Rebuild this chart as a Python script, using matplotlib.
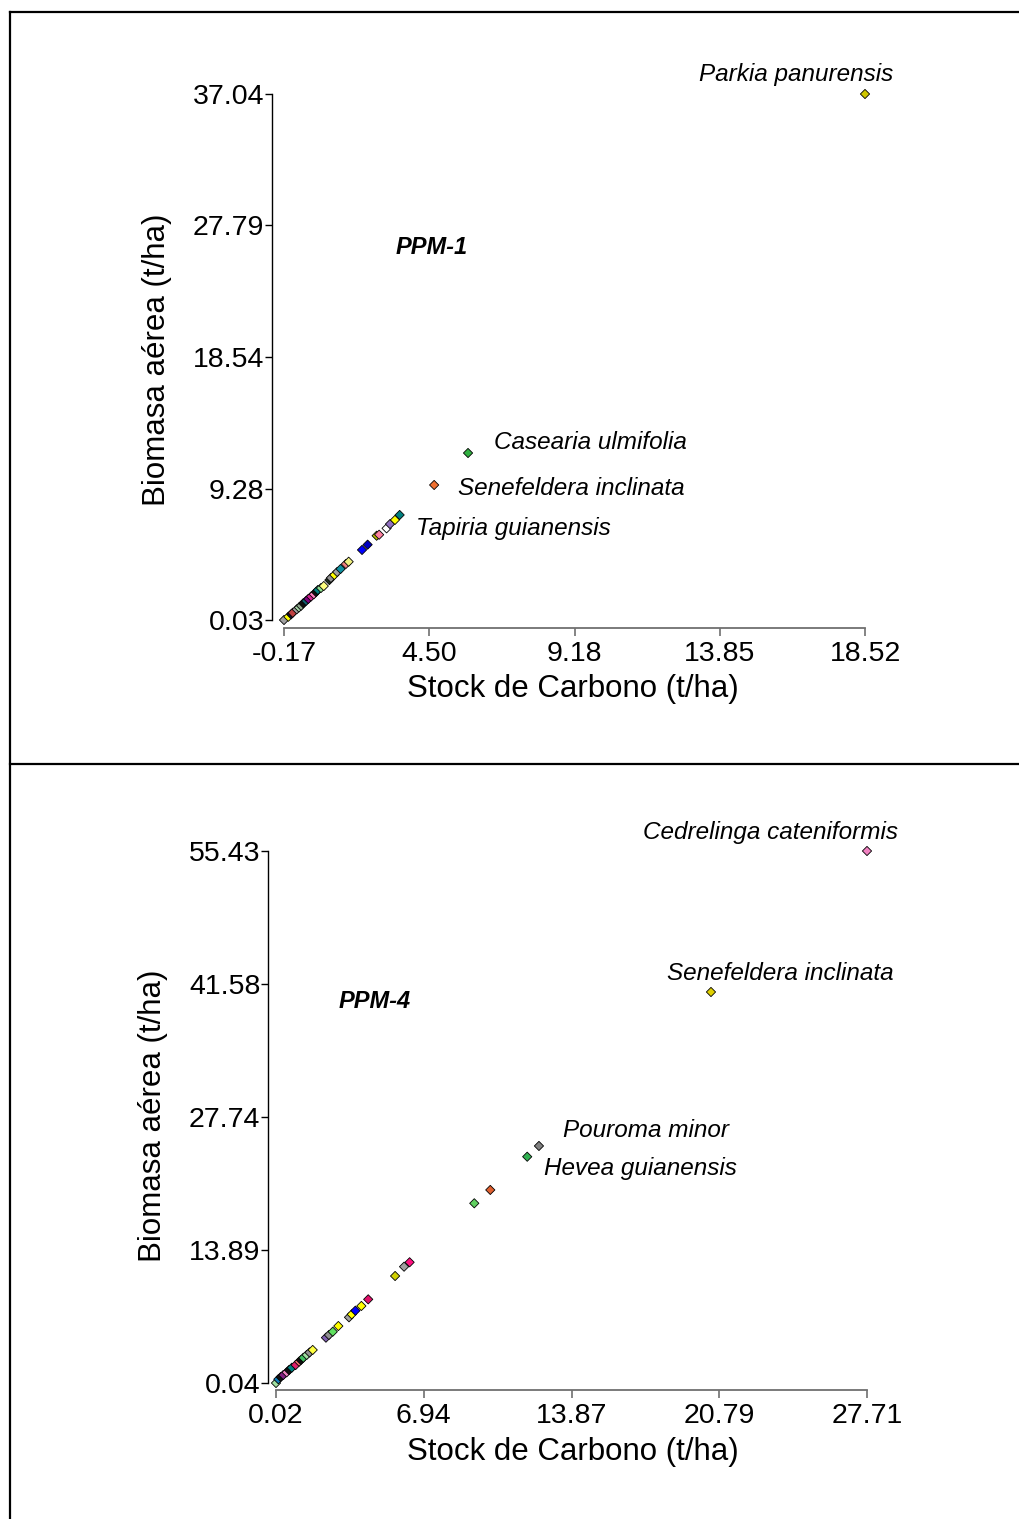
import matplotlib
matplotlib.use("Agg")
import matplotlib.pyplot as plt
from matplotlib.lines import Line2D

plt.rcParams['font.family'] = ['Liberation Sans', 'DejaVu Sans']

# PPM-1: stock de carbono vs biomasa aerea (t/ha)
carbono1 = [-0.17, -0.03, 0.06, 0.11, 0.24, 0.31, 0.38, 0.45, 0.54, 0.61, 0.70, 0.79,
            0.86, 0.92, 1.02, 1.11, 1.29, 1.34, 1.45, 1.54, 1.65, 1.82, 1.91, 2.34,
            2.52, 2.81, 2.89, 3.13, 3.24, 3.40, 3.55, 4.66, 5.75, 18.52]
biomasa1 = [0.03, 0.26, 0.43, 0.54, 0.78, 0.91, 1.03, 1.21, 1.37, 1.51, 1.68, 1.84,
            2.00, 2.14, 2.28, 2.42, 2.84, 2.99, 3.20, 3.41, 3.62, 3.97, 4.13, 4.96,
            5.33, 5.96, 6.03, 6.48, 6.78, 7.07, 7.42, 9.53, 11.78, 37.04]
colores1 = ['#a0a0a0', '#ffff00', '#101030', '#c04040', '#a0a0a0', '#a8d8a8', '#90a890',
            '#101010', '#106070', '#800080', '#d02090', '#ff80c0', '#101010', '#008080',
            '#90e090', '#ffff80', '#203020', '#909090', '#ffff00', '#a0a0a0', '#1090a0',
            '#f08080', '#f0f080', '#0000ff', '#0000c0', '#c0c000', '#ff80a0', '#ffffff',
            '#9070c0', '#ffff00', '#008080', '#f07030', '#30b040', '#d0c800']
especies1 = {'Parkia panurensis': 33, 'Casearia ulmifolia': 32,
             'Senefeldera inclinata': 31, 'Tapiria guianensis': 30}
xticks1 = [-0.17, 4.50, 9.18, 13.85, 18.52]
yticks1 = [0.03, 9.28, 18.54, 27.79, 37.04]

# PPM-4
carbono4 = [0.02, 0.13, 0.24, 0.36, 0.52, 0.63, 0.76, 0.94, 1.10, 1.19, 1.30, 1.46,
            1.59, 1.74, 2.36, 2.50, 2.68, 2.94, 3.44, 3.57, 3.74, 4.02, 4.34, 5.60,
            6.02, 6.28, 9.31, 10.06, 11.79, 12.34, 20.40, 27.71]
biomasa4 = [0.04, 0.43, 0.66, 0.87, 1.15, 1.39, 1.63, 1.91, 2.26, 2.43, 2.67, 2.96,
            3.22, 3.48, 4.76, 5.04, 5.38, 5.97, 6.88, 7.19, 7.57, 8.06, 8.75, 11.18,
            12.15, 12.61, 18.75, 20.14, 23.60, 24.72, 40.75, 55.43]
colores4 = ['#a0e0a0', '#1080c0', '#101010', '#802080', '#f080c0', '#101010', '#008080',
            '#e0206a', '#f07070', '#101010', '#40c060', '#a0e0a0', '#909090', '#ffff40',
            '#8060b0', '#909090', '#60e060', '#ffff00', '#a0a0a0', '#ffff00', '#0000ff',
            '#ffff00', '#e0106a', '#d0d000', '#a0a0a0', '#ff1080', '#60d060', '#e06030',
            '#30b050', '#808080', '#e0d000', '#f080c0']
especies4 = {'Cedrelinga cateniformis': 31, 'Senefeldera inclinata': 30,
             'Pouroma minor': 29, 'Hevea guianensis': 28}
xticks4 = [0.02, 6.94, 13.87, 20.79, 27.71]
yticks4 = [0.04, 13.89, 27.74, 41.58, 55.43]

W, H = 1020, 1519
fig = plt.figure(figsize=(W / 100, H / 100), dpi=100)


def panel(x, y, cols, xt, yt, names, box, offsets, tag, tagpos, lab):
    # box: pixel positions (yaxis_x, xaxis_y, xmin_px, xmax_px, ymin_px, ymax_px, right, top)
    ax_x, ax_y, x0, x1, y0, y1, right, top = box
    kx = (xt[-1] - xt[0]) / (x1 - x0)
    ky = (yt[-1] - yt[0]) / (y0 - y1)
    ax = fig.add_axes([ax_x / W, 1 - ax_y / H, (right - ax_x) / W, (ax_y - top) / H])
    ax.set_xlim(xt[0] - (x0 - ax_x) * kx, xt[-1] + (right - x1) * kx)
    ax.set_ylim(yt[0] - (ax_y - y0) * ky, yt[-1] + (y1 - top) * ky)
    ax.patch.set_visible(False)
    for s in ['top', 'right']:
        ax.spines[s].set_visible(False)
    ax.spines['left'].set_bounds(yt[0], yt[-1])
    ax.spines['bottom'].set_bounds(xt[0], xt[-1])
    ax.spines['left'].set_linewidth(1.0)
    ax.spines['bottom'].set_linewidth(1.3)
    ax.spines['bottom'].set_color('#707070')
    ax.set_xticks(xt)
    ax.set_xticklabels(['%.2f' % v for v in xt])
    ax.set_yticks(yt)
    ax.set_yticklabels(['%.2f' % v for v in yt])
    ax.tick_params(axis='y', length=5, width=1, pad=0.5, labelsize=20.5)
    ax.tick_params(axis='x', length=6, width=1.2, color='#707070', pad=3.5, labelsize=20.5)
    ax.scatter(x, y, c=cols, marker='D', s=22, edgecolors='black', linewidths=0.6,
               zorder=3, clip_on=False)
    for (name, i), (dx, dy, ha) in zip(names.items(), offsets):
        ax.annotate(name, xy=(x[i], y[i]), xytext=(dx, dy), textcoords='offset pixels',
                    ha=ha, va='center', fontsize=17.5, style='italic')
    fig.text(tagpos[0] / W, 1 - tagpos[1] / H, tag, ha='center', va='center',
             fontsize=17, style='italic', weight='bold')
    fig.text(lab[0] / W, 1 - lab[1] / H, 'Stock de Carbono (t/ha)', ha='center',
             va='center', fontsize=22.5)
    fig.text(lab[2] / W, 1 - lab[3] / H, 'Biomasa aérea (t/ha)', ha='center',
             va='center', fontsize=22.5, rotation=90)
    return ax


panel(carbono1, biomasa1, colores1, xticks1, yticks1, especies1,
      (272, 628, 284, 865, 620, 94, 895, 70),
      [(28, 20, 'right'), (26, 11, 'left'), (24, -4, 'left'), (16, -14, 'left')],
      'PPM-1', (432, 248), (573, 689, 157, 360))

panel(carbono4, biomasa4, colores4, xticks4, yticks4, especies4,
      (268, 1390, 276, 867, 1383, 851, 900, 825),
      [(31, 19, 'right'), (-44, 18, 'left'), (24, 15, 'left'), (17, -12, 'left')],
      'PPM-4', (375, 1001), (573, 1452, 153, 1116))

# table-like frame lines
for xs, ys in [((10, W), (12, 12)), ((10, 10), (12, H)), ((10, W), (764, 764))]:
    fig.add_artist(Line2D([v / W for v in xs], [1 - v / H for v in ys],
                          color='black', linewidth=1.6))

fig.savefig('out.png', dpi=100)
